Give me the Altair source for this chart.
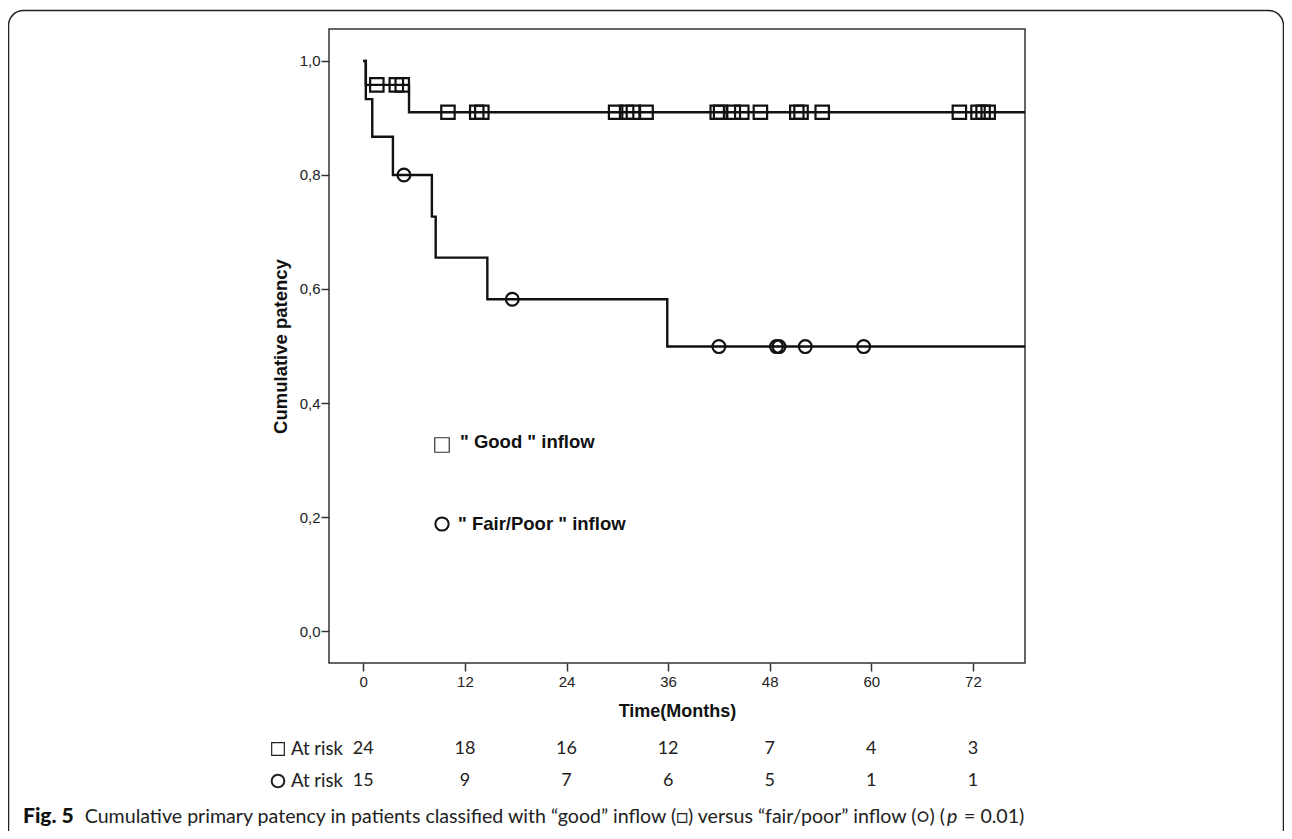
import altair as alt
import pandas as pd

# ---------------- data ----------------
# "Good" inflow group (squares): Kaplan-Meier steps (time in months, survival)
good_step_t = [0.0, 0.3, 5.4, 78.15]
good_step_s = [1.0, 0.958, 0.910, 0.910]
good_cens_t = [1.6, 3.9, 4.6, 10.0, 13.4, 14.0, 29.8, 31.1, 31.9, 33.4,
               41.8, 42.2, 43.7, 44.7, 46.9, 51.2, 51.7, 54.2, 70.4,
               72.6, 73.2, 73.8]

# "Fair/Poor" inflow group (circles)
poor_step_t = [0.0, 0.3, 1.06, 3.5, 8.1, 8.55, 14.65, 35.9, 78.15]
poor_step_s = [1.0, 0.933, 0.867, 0.800, 0.727, 0.655, 0.582, 0.499, 0.499]
poor_cens_t = [4.8, 17.6, 42.0, 48.8, 49.1, 52.2, 59.1]

# numbers at risk
risk_t = [0, 12, 24, 36, 48, 60, 72]
good_risk = [24, 18, 16, 12, 7, 4, 3]
poor_risk = [15, 9, 7, 6, 5, 1, 1]

y_ticks = [0.0, 0.2, 0.4, 0.6, 0.8, 1.0]


def step_value(ts, ss, t):
    v = ss[0]
    for a, b in zip(ts, ss):
        if a <= t:
            v = b
    return v


steps = pd.DataFrame(
    [{"t": a, "s": b, "g": "good"} for a, b in zip(good_step_t, good_step_s)]
    + [{"t": a, "s": b, "g": "poor"} for a, b in zip(poor_step_t, poor_step_s)]
)
good_cens = pd.DataFrame({"t": good_cens_t,
                          "s": [step_value(good_step_t, good_step_s, t) for t in good_cens_t]})
poor_cens = pd.DataFrame({"t": poor_cens_t,
                          "s": [step_value(poor_step_t, poor_step_s, t) for t in poor_cens_t]})
risk_good_df = pd.DataFrame({"t": risk_t, "n": good_risk})
risk_poor_df = pd.DataFrame({"t": risk_t, "n": poor_risk})
one = pd.DataFrame({"a": [0]})

# ---------------- shared encodings ----------------
PLOT_FONT = "Liberation Sans"
TAB_FONT = "Lato"
CAP_FONT = "Lato"
INK = "#111111"

xscale = alt.Scale(domain=[-4.05, 78.15], nice=False, zero=False)
yscale = alt.Scale(domain=[-0.056, 1.056], nice=False, zero=False)

xaxis = alt.Axis(values=risk_t, title="Time(Months)", grid=False, domain=False,
                 tickSize=8, tickColor="#333", tickWidth=1.5,
                 labelFont=PLOT_FONT, labelFontSize=15, labelColor="#222",
                 labelPadding=3, labelFlush=False,
                 titleFont=PLOT_FONT, titleFontSize=18, titleFontWeight="bold",
                 titleColor=INK, titleX=348, titleY=48, titleBaseline="middle",
                 titleAlign="center")
yaxis = alt.Axis(values=y_ticks, title="Cumulative patency", grid=False, domain=False,
                 labelExpr="replace(format(datum.value, '.1f'), '.', ',')",
                 tickSize=8, tickColor="#333", tickWidth=1.5,
                 labelFont=PLOT_FONT, labelFontSize=15, labelColor="#222",
                 labelPadding=1, labelFlush=False,
                 titleFont=PLOT_FONT, titleFontSize=18.5, titleFontWeight="bold",
                 titleColor=INK, titleX=-49, titleY=317, titleAngle=270,
                 titleBaseline="middle", titleAlign="center")

X = alt.X("t:Q", scale=xscale, axis=xaxis)
Y = alt.Y("s:Q", scale=yscale, axis=yaxis)

# ---------------- layers ----------------
lines = alt.Chart(steps).mark_line(interpolate="step-after", color=INK,
                                   strokeWidth=2.4).encode(x=X, y=Y, detail="g:N")

sq = alt.Chart(good_cens).mark_point(shape="square", size=180, filled=False,
                                     color=INK, strokeWidth=2.2, opacity=1).encode(x=X, y=Y)
ci = alt.Chart(poor_cens).mark_point(shape="circle", size=165, filled=False,
                                     color=INK, strokeWidth=2.2, opacity=1).encode(x=X, y=Y)

# in-plot key
KEY1_Y = 413
KEY2_Y = 495
key_sq = alt.Chart(one).mark_point(shape="square", size=210, filled=False, color="#333",
                                   strokeWidth=1.2, opacity=1).encode(
    x=alt.value(113), y=alt.value(KEY1_Y + 3))
key_ci = alt.Chart(one).mark_point(shape="circle", size=175, filled=False, color=INK,
                                   strokeWidth=2, opacity=1).encode(
    x=alt.value(113), y=alt.value(KEY2_Y))
key_t1 = alt.Chart(one).mark_text(text='" Good " inflow', align="left", baseline="middle",
                                  font=PLOT_FONT, fontSize=18.5, fontWeight="bold",
                                  color=INK).encode(x=alt.value(131), y=alt.value(KEY1_Y))
key_t2 = alt.Chart(one).mark_text(text='" Fair/Poor " inflow', align="left",
                                  baseline="middle", font=PLOT_FONT, fontSize=18.5,
                                  fontWeight="bold", color=INK).encode(
    x=alt.value(129), y=alt.value(KEY2_Y))

# numbers at risk
ROW1_Y = 720
ROW2_Y = 752
nr1 = alt.Chart(risk_good_df).mark_text(baseline="middle", font=TAB_FONT, fontSize=18,
                                        color="#222").encode(x=X, y=alt.value(ROW1_Y),
                                                             text="n:Q")
nr2 = alt.Chart(risk_poor_df).mark_text(baseline="middle", font=TAB_FONT, fontSize=18,
                                        color="#222").encode(x=X, y=alt.value(ROW2_Y),
                                                             text="n:Q")
row_sq = alt.Chart(one).mark_point(shape="square", size=160, filled=False, color="#222",
                                   strokeWidth=1.2, opacity=1).encode(
    x=alt.value(-51), y=alt.value(ROW1_Y))
row_ci = alt.Chart(one).mark_point(shape="circle", size=160, filled=False, color="#222",
                                   strokeWidth=2, opacity=1).encode(
    x=alt.value(-51), y=alt.value(ROW2_Y))
row_t1 = alt.Chart(one).mark_text(text="At risk", align="left", baseline="middle",
                                  font=TAB_FONT, fontSize=18.5, color="#222").encode(
    x=alt.value(-38), y=alt.value(ROW1_Y))
row_t2 = alt.Chart(one).mark_text(text="At risk", align="left", baseline="middle",
                                  font=TAB_FONT, fontSize=18.5, color="#222").encode(
    x=alt.value(-38), y=alt.value(ROW2_Y))

# caption
CAP_Y = 788
cap_b = alt.Chart(one).mark_text(text="Fig. 5", align="left", baseline="middle",
                                 font=CAP_FONT, fontSize=21, fontWeight=900,
                                 color=INK).encode(x=alt.value(-306), y=alt.value(CAP_Y))
cap_a = alt.Chart(one).mark_text(
    text="Cumulative primary patency in patients classified with \u201cgood\u201d inflow (\u25a1) "
         "versus \u201cfair/poor\u201d inflow (\u25cb) (",
    align="right", baseline="middle", font=CAP_FONT, fontSize=19.6, color="#222").encode(
    x=alt.value(616), y=alt.value(CAP_Y))
cap_p = alt.Chart(one).mark_text(text="p", align="left", baseline="middle", font=CAP_FONT,
                                 fontSize=19.6, fontStyle="italic", color="#222").encode(
    x=alt.value(618), y=alt.value(CAP_Y))
cap_c = alt.Chart(one).mark_text(text="= 0.01)", align="left", baseline="middle",
                                 font=CAP_FONT, fontSize=19.6, color="#222").encode(
    x=alt.value(635), y=alt.value(CAP_Y))

# outer rounded frame
border = alt.Chart(one).mark_rect(fillOpacity=0, stroke="#222", strokeWidth=1.5,
                                  cornerRadius=15).encode(
    x=alt.value(-320.5), x2=alt.value(954.5), y=alt.value(-18.5), y2=alt.value(830))

chart = alt.layer(
    border, lines, sq, ci, key_sq, key_ci, key_t1, key_t2,
    nr1, nr2, row_sq, row_ci, row_t1, row_t2, cap_b, cap_a, cap_p, cap_c
).properties(
    width=696, height=634,
    autosize=alt.AutoSizeParams(type="none"),
    padding={"left": 321, "top": 21, "right": 259, "bottom": 168},
    background="white",
).configure_view(stroke="#333", strokeWidth=1.5)

chart.save("out.html", embed_options={"renderer": "svg", "actions": False})
